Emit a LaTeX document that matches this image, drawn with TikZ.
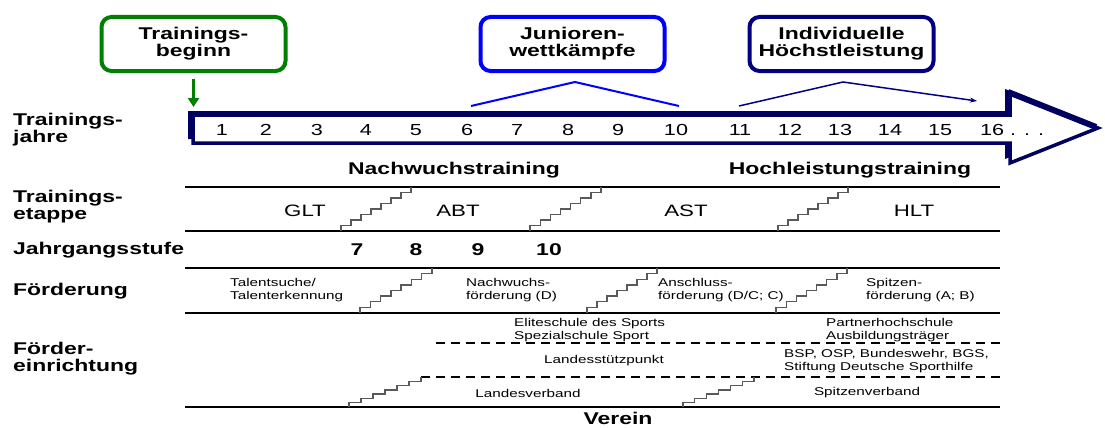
\documentclass[tikz,border=0pt]{standalone}
\usepackage{fontspec}
\setmainfont{Liberation Sans}[FakeStretch=1.35]
\usetikzlibrary{arrows.meta, positioning}
\definecolor{tbGreen}{RGB}{0,128,0}
\definecolor{jwBlue}{RGB}{0,0,255}
\definecolor{ihNavy}{RGB}{0,0,128}
\definecolor{arrowNavy}{RGB}{0,0,96}

% Treppe: unten (#1,#2), oben (#3,#4), #5 Stufen
\newcommand{\treppe}[5]{%
  \pgfmathsetmacro{\trW}{(#3-#1)/(#5-1)}%
  \pgfmathsetmacro{\trH}{(#2-#4)/#5}%
  \draw[stairline] (#1,#2) \foreach \k in {2,...,#5}{ -- ++(0,-\trH) -- ++(\trW,0) } -- ++(0,-\trH);
}

\begin{document}
\begin{tikzpicture}[
    x=1pt, y=-1pt,
    goal/.style={rounded corners=10pt, line width=4pt, fill=white, minimum width=184pt, minimum height=54pt, inner sep=2pt, align=center, font=\fontsize{17}{17}\selectfont\bfseries},
    rowlabel/.style={anchor=west, inner sep=0pt, align=left, font=\fontsize{17}{17}\selectfont\bfseries},
    phase/.style={inner sep=0pt, font=\fontsize{17}{17}\selectfont\bfseries},
    year/.style={inner sep=0pt, font=\fontsize{16}{16}\selectfont},
    stage/.style={inner sep=0pt, font=\fontsize{16.5}{17}\selectfont},
    info/.style={inner sep=0pt, align=left, font=\fontsize{11.3}{12.5}\selectfont},
    rowline/.style={line width=2.5pt},
    dashrule/.style={line width=1.5pt, dash pattern=on 9pt off 6pt},
    stairline/.style={draw=black!65, line width=1.3pt}
  ]
    \useasboundingbox (0,0) rectangle (1105,428);

    % Zielkaesten
    \node[goal, draw=tbGreen] (tb) at (193.5,44) {Trainings-\\beginn};
    \node[goal, draw=jwBlue] (jw) at (572.5,44) {Junioren-\\wettkämpfe};
    \node[goal, draw=ihNavy] (ih) at (841.5,44) {Individuelle\\Höchstleistung};

    % Zeitpfeil
    \path[fill=arrowNavy, shift={(-5,-4)}] (193,115) -- (1010,115) -- (1010,93) -- (1098,128) -- (1010,163) -- (1010,143) -- (193,143) -- cycle;
    \draw[line width=3.5pt, draw=arrowNavy, fill=white, line join=miter] (193,115) -- (1010,115) -- (1010,93) -- (1098,128) -- (1010,163) -- (1010,143) -- (193,143) -- cycle;
    \draw[line width=6pt, arrowNavy] (1008,92) -- (1096,127);

    \foreach \x/\n in {222/1, 266/2, 317/3, 366/4, 416/5, 467/6, 517/7, 568/8, 618/9, 676/10, 740/11, 790/12, 840/13, 890/14, 940/15}
      \node[year] (y\n) at (\x,130) {\n};
    \node[year, anchor=west] (y16) at (980,130) {16 . . .};

    \coordinate (tj) at (193.5,107);
    \draw[-{Triangle[length=9pt,width=11pt]}, line width=2.5pt, tbGreen] ([yshift=-6pt]tb.south) -- (tj);

    \coordinate (jw-a) at (471,106);
    \coordinate (jw-b) at (575,82);
    \coordinate (jw-c) at (679,106);
    \draw[jwBlue, line width=2pt] (jw-a) -- (jw-b) -- (jw-c);

    \coordinate (ih-a) at (739,106);
    \coordinate (ih-b) at (843,82);
    \coordinate (ih-c) at (977,101);
    \draw[ihNavy, line width=1.5pt, -{Stealth[length=7pt,width=5pt]}] (ih-a) -- (ih-b) -- (ih-c);

    % Zeilenbeschriftung
    \node[rowlabel] (lj) at (13,130) {Trainings-\\jahre};
    \node[rowlabel] (le) at (13,207) {Trainings-\\etappe};
    \node[rowlabel] (lg) at (13,250) {Jahrgangsstufe};
    \node[rowlabel] (lf) at (13,291) {Förderung};
    \node[rowlabel] (lr) at (13,359) {Förder-\\einrichtung};

    \node[phase] (nw) at (454,170) {Nachwuchstraining};
    \node[phase] (hl) at (850,170) {Hochleistungstraining};

    \foreach \y in {187,231,268,313,407}
      \draw[rowline] (185,\y) -- (1000,\y);

    % Trainingsetappe
    \node[stage] (glt) at (305,211) {GLT};
    \node[stage] (abt) at (458,211) {ABT};
    \node[stage] (ast) at (686,211) {AST};
    \node[stage] (hlt) at (914,211) {HLT};
    \treppe{341}{231}{411}{187}{8}
    \treppe{530}{231}{601}{187}{8}
    \treppe{778}{231}{848}{187}{8}

    % Jahrgangsstufe
    \node[phase] (g7) at (357,250) {7};
    \node[phase] (g8) at (416,250) {8};
    \node[phase] (g9) at (478,250) {9};
    \node[phase] (g10) at (549,250) {10};

    % Foerderung
    \node[info, anchor=west] (ts) at (230,290) {Talentsuche/\\Talenterkennung};
    \node[info, anchor=west] (nf) at (466,290) {Nachwuchs-\\förderung (D)};
    \node[info, anchor=west] (af) at (658,290) {Anschluss-\\förderung (D/C; C)};
    \node[info, anchor=west] (sf) at (866,290) {Spitzen-\\förderung (A; B)};
    \treppe{360}{313}{432}{268}{8}
    \treppe{587}{313}{657}{268}{8}
    \treppe{776}{313}{847}{268}{8}

    % Foerdereinrichtung
    \node[info, anchor=west] (es) at (514,330) {Eliteschule des Sports\\Spezialschule Sport};
    \node[info, anchor=west] (ph) at (826,330) {Partnerhochschule\\Ausbildungsträger};
    \draw[dashrule] (436,343) -- (1000,343);
    \node[info] (lsp) at (604,361) {Landesstützpunkt};
    \node[info, anchor=west] (bsp) at (784,361) {BSP, OSP, Bundeswehr, BGS,\\Stiftung Deutsche Sporthilfe};
    \draw[dashrule] (421,377) -- (1000,377);
    \treppe{349}{407}{421}{377}{7}
    \treppe{683}{407}{754}{377}{7}
    \node[info] (lv) at (528,393) {Landesverband};
    \node[info] (sv) at (867,393) {Spitzenverband};
    \node[phase] (ver) at (618,418) {Verein};
  \end{tikzpicture}
\end{document}
